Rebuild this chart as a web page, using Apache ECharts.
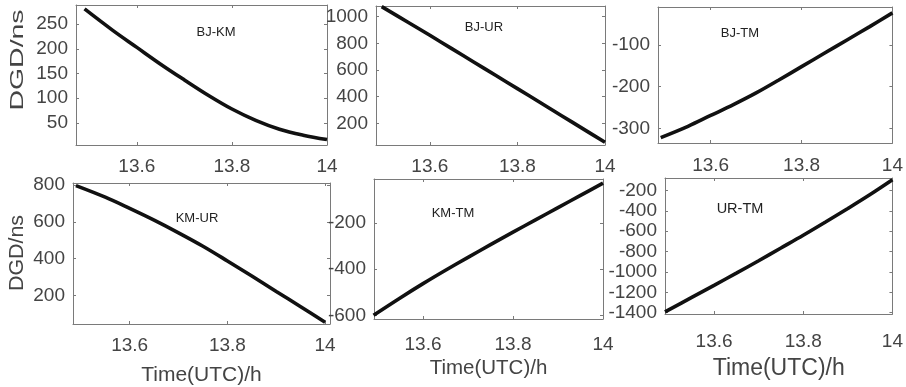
<!DOCTYPE html>
<html><head><meta charset="utf-8">
<script src="https://cdn.jsdelivr.net/npm/echarts@6/dist/echarts.min.js"></script>
<style>html,body{margin:0;padding:0;background:#fff}#c{width:906px;height:387px}</style>
</head><body><div id="c"></div>
<script>
// ---- data ----
const times = [13.49, 13.55, 13.6, 13.65, 13.7, 13.75, 13.8, 13.85, 13.9, 13.95, 14.0];
const bjKm = [281, 237, 203, 169, 137, 106, 78, 55, 37, 25, 16];
const bjUr = [1075, 958, 860, 760, 660, 560, 460, 360, 259, 158, 57];
const bjTm = [-322, -295, -269, -243, -215, -184, -152, -120, -88, -56, -23];
const kmUr = [797, 734, 673, 609, 540, 467, 387, 305, 221, 138, 54];
const kmTm = [-600, -524, -463, -405, -349, -294, -240, -187, -134, -81, -28];
const urTm = [-1392, -1250, -1132, -1012, -890, -765, -640, -510, -377, -240, -95];
const pairNames = ['BJ-KM', 'BJ-UR', 'BJ-TM', 'KM-UR', 'KM-TM', 'UR-TM'];
const xTickValues = [13.6, 13.8, 14];
const yTicksBjKm = [50, 100, 150, 200, 250];
const yTicksBjUr = [200, 400, 600, 800, 1000];
const yTicksBjTm = [-300, -200, -100];
const yTicksKmUr = [200, 400, 600, 800];
const yTicksKmTm = [-600, -400, -200];
const yTicksUrTm = [-1400, -1200, -1000, -800, -600, -400, -200];
const yLabelText = 'DGD/ns';
const xLabelText = 'Time(UTC)/h';

// ---- layout ----
const seriesData = [bjKm, bjUr, bjTm, kmUr, kmTm, urTm];
const yTicks = [yTicksBjKm, yTicksBjUr, yTicksBjTm, yTicksKmUr, yTicksKmTm, yTicksUrTm];
const layout = [
  {left: 76,  top: 5,   width: 251, height: 140, xr: [13.472, 14.0], yr: [5, 289],     xm: 12, lab: [216, 32]},
  {left: 376, top: 6,   width: 229, height: 139, xr: [13.477, 14.0], yr: [37, 1080],   xm: 12, lab: [484, 27]},
  {left: 658, top: 7,   width: 236, height: 136, xr: [13.484, 14.0], yr: [-335, -9],   xm: 13, lab: [740, 33]},
  {left: 73,  top: 183, width: 257, height: 143, xr: [13.484, 14.01], yr: [44, 811],   xm: 12, lab: [197, 218], xn: {gap: 41, size: 21}},
  {left: 374, top: 179, width: 229, height: 140, xr: [13.491, 14.0], yr: [-616, -10],  xm: 16, lab: [453, 213], xn: {gap: 39, size: 20.5}},
  {left: 665, top: 178, width: 232, height: 136, xr: [13.49, 14.0],  yr: [-1413, -78], xm: 18, lab: [740, 209], xn: {gap: 43, size: 23}}
];
const FONT = 'Liberation Sans, Arial, sans-serif';
const AXC = '#7a7a7a';
const LBC = '#444';
const fmt = v => String(+v.toFixed(2));

const grids = [], xAxes = [], yAxes = [], series = [], graphics = [];
layout.forEach((L, i) => {
  grids.push({left: L.left, top: L.top, width: L.width, height: L.height, containLabel: false});
  const xa = {
    type: 'value', gridIndex: i, min: L.xr[0], max: L.xr[1], position: 'bottom',
    axisLine: {show: true, onZero: false, lineStyle: {color: AXC, width: 1}},
    axisTick: {show: true, inside: true, length: 3, customValues: xTickValues, lineStyle: {color: AXC}},
    splitLine: {show: false},
    axisLabel: {show: true, customValues: xTickValues, margin: L.xm, fontFamily: FONT, fontSize: 19, color: LBC, formatter: fmt}
  };
  if (L.xn) {
    Object.assign(xa, {name: xLabelText, nameLocation: 'middle', nameGap: L.xn.gap,
      nameTextStyle: {fontFamily: FONT, fontSize: L.xn.size, color: LBC, verticalAlign: 'top'}});
  }
  xAxes.push(xa);
  yAxes.push({
    type: 'value', gridIndex: i, min: L.yr[0], max: L.yr[1], position: 'left',
    axisLine: {show: true, onZero: false, lineStyle: {color: AXC, width: 1}},
    axisTick: {show: true, inside: true, length: 3, customValues: yTicks[i], lineStyle: {color: AXC}},
    splitLine: {show: false},
    axisLabel: {show: true, customValues: yTicks[i], margin: 8, fontFamily: FONT, fontSize: 19, color: LBC, formatter: fmt}
  });
  series.push({
    type: 'line', xAxisIndex: i, yAxisIndex: i, smooth: 0.35, showSymbol: false,
    lineStyle: {color: '#111', width: 3.6}, silent: true,
    data: times.map((t, k) => [t, seriesData[i][k]])
  });
  graphics.push({type: 'text', x: L.lab[0], y: L.lab[1],
    style: {text: pairNames[i], fontFamily: FONT, fontSize: i === 5 ? 14.5 : 13, fill: '#222',
      textAlign: 'center', textVerticalAlign: 'middle', align: 'center', verticalAlign: 'middle'}});
});
// mirrored box axes (top / right) with inside ticks
layout.forEach((L, i) => {
  xAxes.push({type: 'value', gridIndex: i, min: L.xr[0], max: L.xr[1], position: 'top',
    axisLine: {show: true, onZero: false, lineStyle: {color: AXC, width: 1}},
    axisTick: {show: true, inside: true, length: 3, customValues: xTickValues, lineStyle: {color: AXC}},
    axisLabel: {show: false}, splitLine: {show: false}});
  yAxes.push({type: 'value', gridIndex: i, min: L.yr[0], max: L.yr[1], position: 'right',
    axisLine: {show: true, onZero: false, lineStyle: {color: AXC, width: 1}},
    axisTick: {show: true, inside: true, length: 3, customValues: yTicks[i], lineStyle: {color: AXC}},
    axisLabel: {show: false}, splitLine: {show: false}});
});
// y-axis titles
[[18, 60, 18, 1.58], [17, 253, 20, 1.07]].forEach(p => {
  graphics.push({type: 'text', x: p[0], y: p[1], rotation: Math.PI / 2, scaleX: p[3],
    style: {text: yLabelText, fontFamily: FONT, fontSize: p[2], fill: LBC,
      textAlign: 'center', textVerticalAlign: 'middle', align: 'center', verticalAlign: 'middle'}});
});

const chart = echarts.init(document.getElementById('c'), null, {renderer: 'canvas'});
chart.setOption({
  animation: false,
  backgroundColor: '#fff',
  grid: grids, xAxis: xAxes, yAxis: yAxes, series: series, graphic: graphics
});
</script></body></html>
